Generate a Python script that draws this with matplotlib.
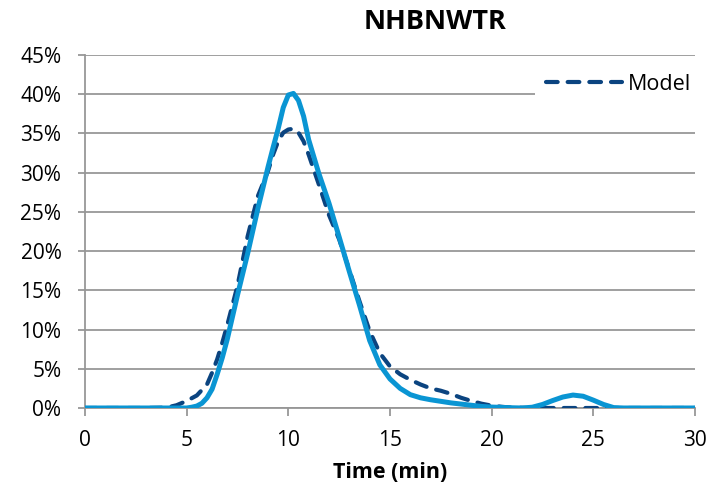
import matplotlib.pyplot as plt
from matplotlib.ticker import FuncFormatter

# residence time distribution, % of tracer per minute
time_measured = [0, 1, 2, 3, 4, 4.5, 5, 5.25, 5.5, 5.75, 6, 6.25, 6.5, 6.75, 7, 7.5, 8, 8.5, 9,
                 9.25, 9.5, 9.75, 10, 10.25, 10.5, 10.75, 11, 11.5, 12, 12.5, 13, 13.5, 14, 14.5,
                 15, 15.5, 16, 16.5, 17, 17.5, 18, 18.5, 19, 19.5, 20, 21, 21.5, 22, 22.5, 23,
                 23.5, 24, 24.5, 25, 25.5, 26, 26.5, 27, 28, 29, 30]
measured = [0, 0, 0, 0, 0, 0, 0, 0.1, 0.25, 0.6, 1.3, 2.4, 4.3, 6.4, 8.8, 14.4, 19.7, 25.4, 30.7,
            33.2, 35.6, 38.3, 39.9, 40.1, 39.2, 37.2, 34.2, 29.9, 26.1, 21.8, 17.4, 13.1, 8.6, 5.5,
            3.7, 2.5, 1.7, 1.3, 1.05, 0.85, 0.65, 0.5, 0.35, 0.2, 0.12, 0.03, 0, 0.1, 0.45, 0.95,
            1.4, 1.65, 1.5, 1.0, 0.45, 0.05, 0, 0, 0, 0, 0]

time_model = [0, 1, 2, 3, 4, 4.5, 5, 5.5, 6, 6.25, 6.5, 6.75, 7, 7.5, 8, 8.5, 9, 9.25, 9.5,
              9.75, 10, 10.25, 10.5, 10.75, 11, 11.5, 12, 12.5, 13, 13.5, 14, 14.5, 15, 15.5,
              16, 16.5, 17, 17.5, 18, 18.5, 19, 19.5, 20, 20.5, 21, 22, 23, 24, 25, 26, 27,
              28, 29, 30]
model = [0, 0, 0, 0, 0.05, 0.35, 0.9, 1.6, 3.0, 4.5, 6.2, 8.3, 10.6, 15.6, 21.9, 27.0, 30.2, 32.3,
         34.0, 35.1, 35.5, 35.6, 35.1, 34.0, 32.3, 28.5, 24.6, 21.5, 17.6, 13.6, 9.8, 7.0, 5.3,
         4.3, 3.6, 3.0, 2.5, 2.2, 1.8, 1.3, 0.9, 0.55, 0.3, 0.15, 0.05, 0, 0, 0, 0, 0, 0, 0, 0, 0]

x_ticks = [0, 5, 10, 15, 20, 25, 30]
y_ticks = [0, 5, 10, 15, 20, 25, 30, 35, 40, 45]

plt.rcParams['font.family'] = ['Open Sans', 'DejaVu Sans']

fig = plt.figure(figsize=(7.09, 4.97), dpi=100)
ax = fig.add_axes([85 / 709, 89 / 497, 610 / 709, 353 / 497])

grid_color = '#979797'
ax.plot(time_model, model, color='#0b4480', lw=3.0, linestyle=(0, (2.8, 2.4)),
        dash_capstyle='round', dash_joinstyle='round', label='Model', zorder=3)
ax.plot(time_measured, measured, color='#0a95d3', lw=3.6, solid_capstyle='round',
        solid_joinstyle='round', zorder=4)

ax.set_xlim(0, 30)
ax.set_ylim(0, 45)
ax.set_xticks(x_ticks)
ax.set_yticks(y_ticks)
ax.yaxis.set_major_formatter(FuncFormatter(lambda v, p: f'{v:.0f}%'))
ax.grid(axis='y', color=grid_color, lw=1.3)
ax.set_axisbelow(True)

for side in ['top', 'right']:
    ax.spines[side].set_visible(False)
for side in ['left', 'bottom']:
    ax.spines[side].set_color(grid_color)
    ax.spines[side].set_linewidth(1.3)

ax.tick_params(axis='both', colors=grid_color, labelcolor='black', labelsize=15, width=1.3)
ax.tick_params(axis='x', length=6, pad=10)
ax.tick_params(axis='y', length=5, pad=12)

ax.set_xlabel('Time (min)', fontsize=15.5, fontweight='bold', labelpad=8)
fig.text(0.614, 0.955, 'NHBNWTR', fontsize=19.5, fontweight='bold', ha='center', va='center')

leg = ax.legend(loc='center right', bbox_to_anchor=(702 / 709, 1 - 84 / 497),
                bbox_transform=fig.transFigure, fontsize=15.5, frameon=True,
                handlelength=3.5, handletextpad=0.3, borderpad=0.5, borderaxespad=0)
leg.get_frame().set_facecolor('white')
leg.get_frame().set_edgecolor('none')
leg.get_frame().set_alpha(1)

fig.savefig('out.png', dpi=100)
